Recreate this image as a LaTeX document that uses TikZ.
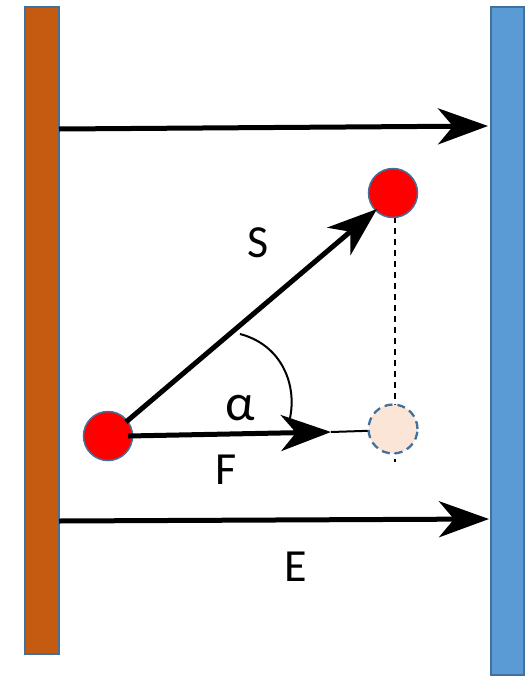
\documentclass[tikz,border=0pt]{standalone}
\usepackage{fontspec}
\setmainfont{Carlito}
\usetikzlibrary{arrows.meta}
\definecolor{barorange}{HTML}{C55A11}
\definecolor{barblue}{HTML}{5B9BD5}
\definecolor{edgeblue}{HTML}{41719C}
\definecolor{ghost}{HTML}{FBE5D6}
\tikzset{
  bar/.style={draw=edgeblue, line width=1.5pt},
  ball/.style={circle, minimum size=49pt, inner sep=0pt, fill=red, draw=edgeblue, line width=1.5pt},
  ghostball/.style={circle, minimum size=49pt, inner sep=0pt, fill=ghost, draw=edgeblue, line width=2.3pt, dash pattern=on 8pt off 5pt},
  vec/.style={line width=5pt, -{Stealth[length=50pt, width=36pt, inset=15pt]}},
  lbl/.style={font=\fontsize{46}{52}\selectfont, inner sep=0pt}
}
\begin{document}
\begin{tikzpicture}[x=1pt, y=-1pt]
\useasboundingbox (0,0) rectangle (531,678);
\fill[white] (0,0) rectangle (531,678);
% bars
\node[bar, fill=barorange, minimum width=34pt, minimum height=647pt, inner sep=0pt] (lbar) at (42,330.5) {};
\node[bar, fill=barblue, minimum width=33pt, minimum height=668pt, inner sep=0pt] (rbar) at (507.5,341) {};
% dashed vertical (behind balls)
\coordinate (d0) at (395,217);
\coordinate (d1) at (395,462);
\draw[line width=1.3pt, dash pattern=on 6pt off 5pt] (d0) -- (d1);
% balls
\node[ball] (b0) at (108,436) {};
\node[ball] (b1) at (393,193) {};
% F tail line
\coordinate (f1) at (331,432);
\coordinate (g) at (393,430);
\draw[line width=2pt] (f1) -- (g);
\node[ghostball] (b2) at (393,429) {};
% field arrows
\coordinate (t0) at (59,129);
\coordinate (t1) at (488,126);
\draw[vec] (t0) -- (t1);
\coordinate (e0) at (59,521);
\coordinate (e1) at (489,519);
\draw[vec] (e0) -- (e1);
% S arrow
\coordinate (s0) at (126,422);
\coordinate (s1) at (377,209);
\draw[vec] (s0) -- (s1);
% F arrow
\coordinate (f0) at (128,436);
\draw[vec] (f0) -- (f1);
% angle arc
\coordinate (a0) at (240,334);
\coordinate (a1) at (290,418);
\draw[line width=2pt] (a0) .. controls (282,345) and (297,385) .. (a1);
% labels
\node[lbl] (S) at (258,243) {S};
\node[lbl, font=\fontsize{52}{58}\selectfont] (alpha) at (240,408) {α};
\node[lbl] (F) at (226,470) {F};
\node[lbl] (E) at (296,567) {E};
\end{tikzpicture}
\end{document}
